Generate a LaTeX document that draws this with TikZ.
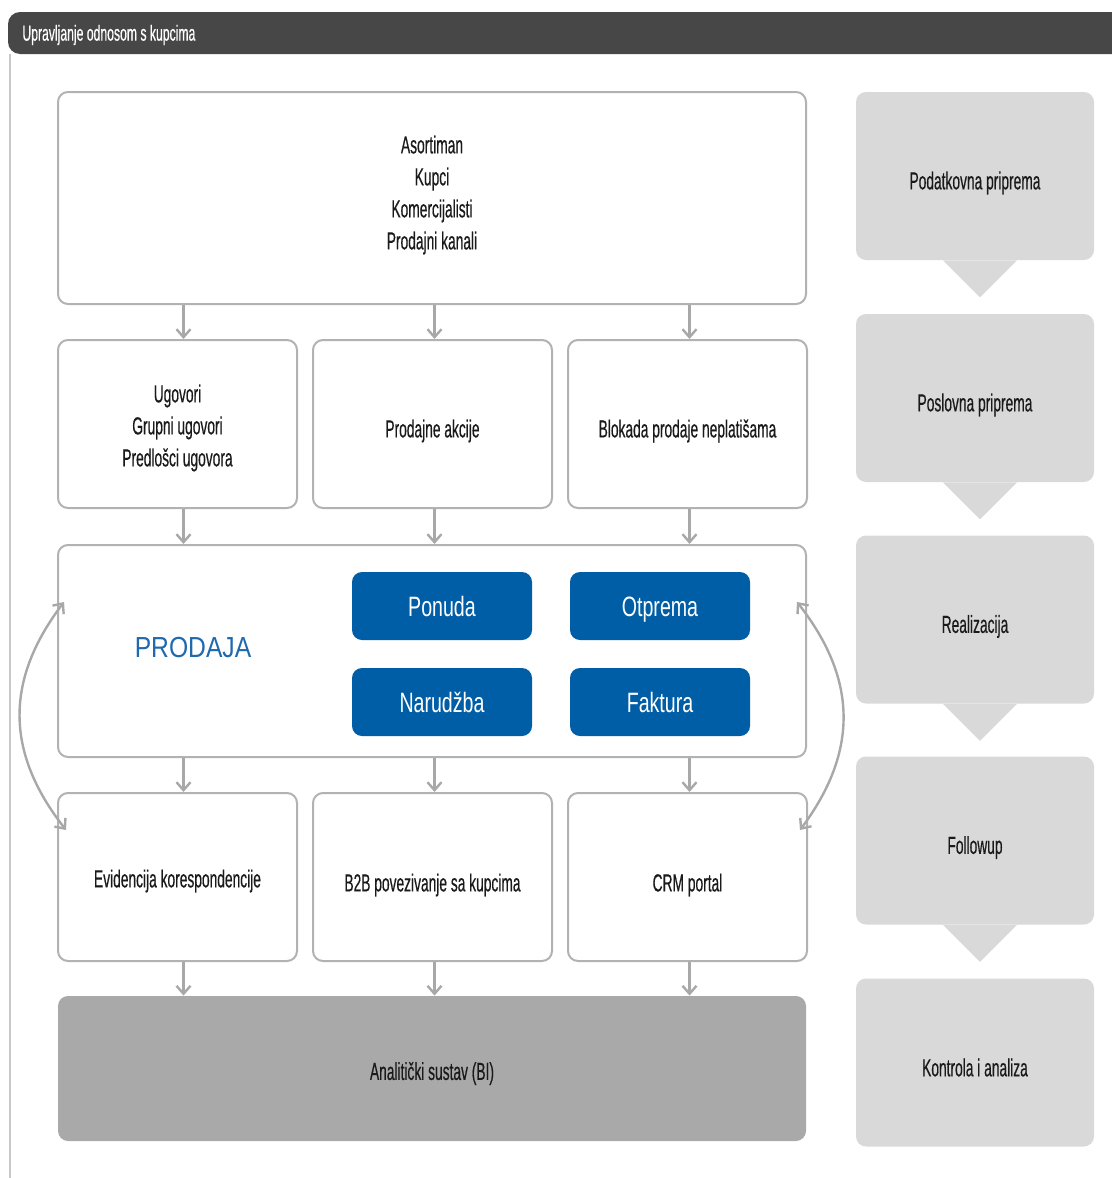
\documentclass[tikz,border=0pt]{standalone}
\usepackage{fontspec}
\setmainfont{Liberation Sans}[FakeStretch=0.56, FakeBold=0.4]
\newfontfamily\bluefont{Liberation Sans}[FakeStretch=0.7]
\newfontfamily\prodfont{Liberation Sans}[FakeStretch=0.85]
\usetikzlibrary{arrows.meta}
\definecolor{hdrgray}{HTML}{474747}
\definecolor{bordergray}{HTML}{B2B2B2}
\definecolor{arrgray}{HTML}{A8A8A8}
\definecolor{sideline}{HTML}{C8C8C8}
\definecolor{blueA}{HTML}{005EA6}
\definecolor{prodblue}{HTML}{1F69B0}
\definecolor{bigray}{HTML}{A9A9A9}
\definecolor{callgray}{HTML}{D9D9D9}
\definecolor{txt}{HTML}{1A1A1A}
\begin{document}
\begin{tikzpicture}[x=0.5pt,y=-0.5pt,
  wbox/.style={draw=bordergray, line width=1pt, fill=white, rounded corners=5pt,
    minimum width=119.5pt, minimum height=84pt, inner sep=0pt},
  widebox/.style={wbox, minimum width=374pt, minimum height=106pt},
  lbl/.style={inner sep=0pt, align=center, text=txt, font=\fontsize{12.3}{16}\selectfont},
  bluebox/.style={fill=blueA, rounded corners=5pt, minimum width=90pt, minimum height=34pt,
    inner sep=0pt, text=white, text height=11.5pt, text depth=1.5pt, font=\bluefont\fontsize{14}{16}\selectfont},
  callout/.style={fill=callgray, rounded corners=5pt, minimum width=119pt, minimum height=84pt, inner sep=0pt},
  arr/.style={draw=arrgray, line width=1.2pt, -{Straight Barb[length=4pt,width=7pt]}},
  darr/.style={draw=arrgray, line width=1.2pt, {Straight Barb[length=4pt,width=7pt]}-{Straight Barb[length=4pt,width=7pt]}}
]
\useasboundingbox (0,0) rectangle (1112,1178);
% header
\fill[hdrgray, rounded corners=6pt] (1112,54) -- (8,54) -- (8,12) -- (1112,12);
\node[anchor=west, text=white, font=\fontsize{10.9}{12}\selectfont, inner sep=0pt] (hdr) at (22,35) {Upravljanje odnosom s kupcima};
\draw[sideline, line width=1pt] (10,54) -- (10,1178);

% main column
\node[widebox] (top) at (432,198) {};
\node[lbl] (topt) at (432,195) {Asortiman\\Kupci\\Komercijalisti\\Prodajni kanali};

\node[wbox] (u1) at (177.5,424) {};
\node[wbox] (u2) at (432.5,424) {};
\node[wbox] (u3) at (687.5,424) {};
\node[lbl] (u1t) at ([yshift=-2pt]u1.center) {Ugovori\\Grupni ugovori\\Predlošci ugovora};
\node[lbl] (u2t) at ([yshift=-3.5pt]u2.center) {Prodajne akcije};
\node[lbl] (u3t) at ([yshift=-3.5pt]u3.center) {Blokada prodaje neplatišama};

\node[widebox] (mid) at (432,651) {};
\node[text=prodblue, font=\prodfont\fontsize{14.5}{16}\selectfont, inner sep=0pt] (prodaja) at (193,648) {PRODAJA};
\node[bluebox] (ponuda) at (442,606) {Ponuda};
\node[bluebox] (otprema) at (660,606) {Otprema};
\node[bluebox] (narudzba) at (442,702) {Narudžba};
\node[bluebox] (faktura) at (660,702) {Faktura};

\node[wbox] (d1) at (177.5,877) {};
\node[wbox] (d2) at (432.5,877) {};
\node[wbox] (d3) at (687.5,877) {};
\node[lbl] (d1t) at ([yshift=-2pt]d1.center) {Evidencija korespondencije};
\node[lbl] (d2t) at ([yshift=-4pt]d2.center) {B2B povezivanje sa kupcima};
\node[lbl] (d3t) at ([yshift=-4pt]d3.center) {CRM portal};

\node[fill=bigray, rounded corners=5pt, minimum width=374pt, minimum height=72.5pt, inner sep=0pt] (bi) at (432,1068.5) {};
\node[lbl] (bit) at ([yshift=-2.5pt]bi.center) {Analitički sustav (BI)};

% vertical arrows
\draw[arr] ([xshift=3pt]top.south -| u1.north) -- ([xshift=3pt]u1.north);
\foreach \b in {u2,u3}
  \draw[arr] ([xshift=1pt]top.south -| \b.north) -- ([xshift=1pt]\b.north);
\draw[arr] ([xshift=3pt]u1.south) -- ([xshift=3pt]mid.north -| u1.south);
\foreach \b in {u2,u3}
  \draw[arr] ([xshift=1pt]\b.south) -- ([xshift=1pt]mid.north -| \b.south);
\draw[arr] ([xshift=3pt]mid.south -| d1.north) -- ([xshift=3pt]d1.north);
\foreach \b in {d2,d3}
  \draw[arr] ([xshift=1pt]mid.south -| \b.north) -- ([xshift=1pt]\b.north);
\draw[arr] ([xshift=3pt]d1.south) -- ([xshift=3pt]bi.north -| d1.south);
\foreach \b in {d2,d3}
  \draw[arr] ([xshift=1pt]\b.south) -- ([xshift=1pt]bi.north -| \b.south);

% curved double arrows
\coordinate (la) at (64,602);
\coordinate (lb) at (66,830);
\coordinate (ra) at (797,602);
\coordinate (rb) at (800,830);
\draw[darr] (la) .. controls (5,680) and (5,752) .. (lb);
\draw[darr] (ra) .. controls (858,680) and (858,752) .. (rb);

% right callouts
\foreach \y/\name/\t in {176/c1/Podatkovna priprema, 398/c2/Poslovna priprema, 619.5/c3/Realizacija, 840.5/c4/Followup}{
  \node[callout] (\name) at (975,\y) {};
  \fill[callgray] ([xshift=-16pt]\name.south) -- ([xshift=21pt]\name.south) -- ([xshift=2.5pt,yshift=-18.5pt]\name.south) -- cycle;
  \node[lbl] (\name t) at ([yshift=-3.5pt]\name.center) {\t};
}
\node[callout] (c5) at (975,1062.5) {};
\node[lbl] (c5t) at ([yshift=-2.5pt]c5.center) {Kontrola i analiza};
\end{tikzpicture}
\end{document}
